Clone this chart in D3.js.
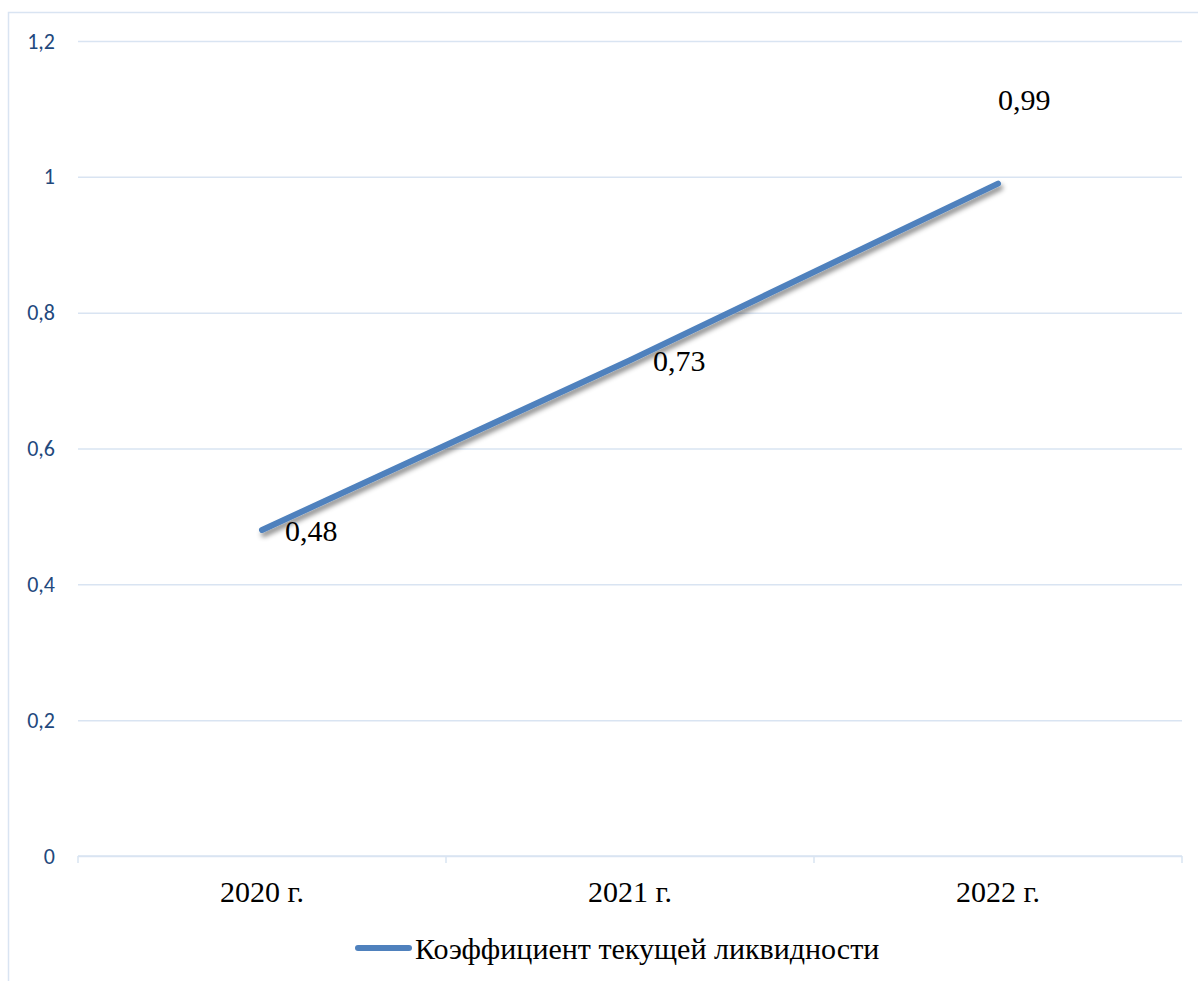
<!DOCTYPE html>
<html>
<head>
<meta charset="utf-8">
<script src="https://cdn.jsdelivr.net/npm/d3@7"></script>
<style>
  html, body { margin: 0; padding: 0; background: #fff; }
  svg { display: block; }
</style>
</head>
<body>
<svg id="chart" width="1198" height="981"></svg>
<script>
// Chart data
const categories = ["2020 г.", "2021 г.", "2022 г."];
const values = [0.48, 0.73, 0.99];
const valueLabels = ["0,48", "0,73", "0,99"];
const yTicks = [0, 0.2, 0.4, 0.6, 0.8, 1, 1.2];
const seriesName = "Коэффициент текущей ликвидности";

const svg = d3.select("#chart");
const W = 1198, H = 981;
const plot = { left: 78, right: 1182, top: 41, bottom: 856 };

const gridColor = "#D9E4F2";
const lineColor = "#4F81BD";
const serifFont = '"Liberation Serif", "Times New Roman", serif';
const axisFont = '"Carlito", "Open Sans", sans-serif';
const fmt = v => String(v).replace(".", ",");

// Chart frame (extends past the right and bottom edges)
svg.append("rect")
  .attr("x", 8.5).attr("y", 12.5)
  .attr("width", W + 20).attr("height", H + 20)
  .attr("fill", "none").attr("stroke", gridColor).attr("stroke-width", 1.5);

const x = d3.scaleBand().domain(categories).range([plot.left, plot.right]);
const y = d3.scaleLinear().domain([0, 1.2]).range([plot.bottom, plot.top]);

// Shadow filter for the series line
const defs = svg.append("defs");
const f = defs.append("filter").attr("id", "shadow")
  .attr("x", "-10%").attr("y", "-10%").attr("width", "120%").attr("height", "130%");
f.append("feDropShadow").attr("dx", 2).attr("dy", 4).attr("stdDeviation", 2.5)
  .attr("flood-color", "#000").attr("flood-opacity", 0.45);

// Horizontal gridlines + Y labels
const yAxis = d3.axisLeft(y).tickValues(yTicks).tickFormat(fmt)
  .tickSize(-(plot.right - plot.left)).tickPadding(23);
const gy = svg.append("g").attr("transform", `translate(${plot.left},0)`).call(yAxis);
gy.select(".domain").remove();
gy.selectAll(".tick line").attr("stroke", gridColor).attr("stroke-width", 1.5);
gy.selectAll(".tick text")
  .attr("fill", "#1F497D")
  .style("font-family", axisFont)
  .style("font-size", "22px");

// X axis with category-boundary ticks
const gx = svg.append("g").attr("transform", `translate(0,${plot.bottom})`);
gx.append("line")
  .attr("x1", plot.left).attr("x2", plot.right)
  .attr("stroke", gridColor).attr("stroke-width", 1.5);
const bounds = categories.map(c => x(c)).concat([x(categories[categories.length - 1]) + x.bandwidth()]);
gx.selectAll("line.tk").data(bounds).enter().append("line").attr("class", "tk")
  .attr("x1", d => d).attr("x2", d => d).attr("y1", 0).attr("y2", 7)
  .attr("stroke", gridColor).attr("stroke-width", 1.5);
gx.selectAll("text").data(categories).enter().append("text")
  .attr("x", d => x(d) + x.bandwidth() / 2)
  .attr("y", 46)
  .attr("text-anchor", "middle")
  .style("font-family", serifFont)
  .style("font-size", "30px")
  .attr("fill", "#000")
  .text(d => d);

// Series line
const pts = categories.map((c, i) => [x(c) + x.bandwidth() / 2, y(values[i])]);
svg.append("path")
  .attr("d", d3.line()(pts))
  .attr("fill", "none").attr("stroke", lineColor)
  .attr("stroke-width", 6).attr("stroke-linecap", "round").attr("stroke-linejoin", "round")
  .attr("filter", "url(#shadow)");

// Data labels: right of the point, except the last one which sits above
const labelPlacement = ["right", "right", "above"];
svg.selectAll("text.dl").data(pts).enter().append("text")
  .attr("class", "dl")
  .attr("x", (d, i) => labelPlacement[i] === "right" ? d[0] + 23 : d[0])
  .attr("y", (d, i) => labelPlacement[i] === "right" ? d[1] + 11 : d[1] - 74)
  .style("font-family", serifFont)
  .style("font-size", "30px")
  .attr("fill", "#000")
  .text((d, i) => valueLabels[i]);

// Legend
const lg = svg.append("g").attr("transform", "translate(355,948)");
lg.append("line").attr("x1", 3).attr("x2", 54).attr("y1", 0).attr("y2", 0)
  .attr("stroke", lineColor).attr("stroke-width", 6).attr("stroke-linecap", "round");
lg.append("text").attr("x", 60).attr("y", 11)
  .style("font-family", serifFont)
  .style("font-size", "30px")
  .attr("fill", "#000")
  .text(seriesName);
</script>
</body>
</html>
